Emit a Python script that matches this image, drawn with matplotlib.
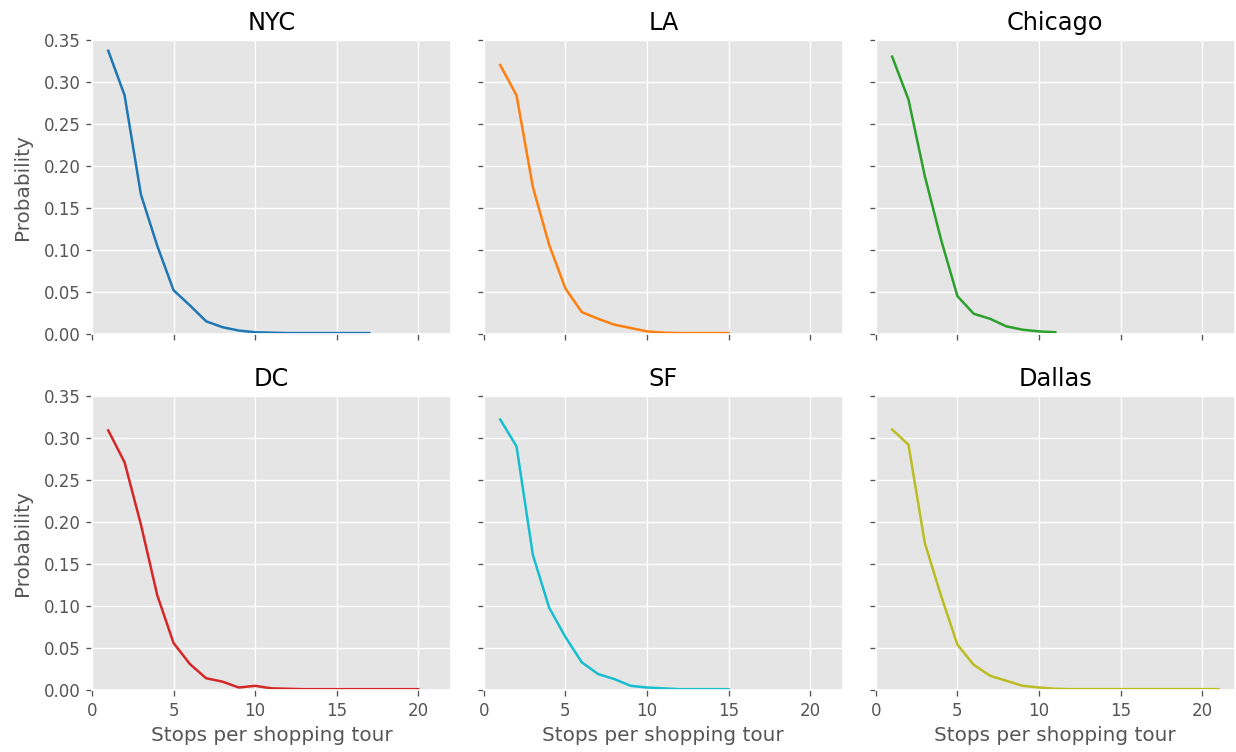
import matplotlib
matplotlib.use('Agg')
import matplotlib.pyplot as plt

plt.style.use('ggplot')

cities = ['NYC', 'LA', 'Chicago', 'DC', 'SF', 'Dallas']
colors = ['tab:blue', 'tab:orange', 'tab:green', 'tab:red', 'tab:cyan', 'tab:olive']

# probability of n stops per tour, n = 1, 2, 3, ...
nyc = [0.337, 0.284, 0.166, 0.105, 0.052, 0.034, 0.015, 0.008, 0.004, 0.002,
       0.0015, 0.001, 0.001, 0.001, 0.001, 0.001, 0.001]
la = [0.320, 0.284, 0.175, 0.106, 0.054, 0.026, 0.018, 0.011, 0.007, 0.003,
      0.0015, 0.001, 0.001, 0.001, 0.001]
chicago = [0.330, 0.279, 0.188, 0.112, 0.045, 0.024, 0.018, 0.009, 0.005, 0.003, 0.002]
dc = [0.309, 0.271, 0.197, 0.113, 0.056, 0.031, 0.014, 0.010, 0.003, 0.005,
      0.002, 0.0015, 0.001, 0.001, 0.001, 0.001, 0.001, 0.001, 0.001, 0.001]
sf = [0.322, 0.290, 0.161, 0.098, 0.063, 0.033, 0.019, 0.013, 0.005, 0.003,
      0.002, 0.001, 0.001, 0.001, 0.001]
dallas = [0.310, 0.292, 0.175, 0.112, 0.054, 0.030, 0.017, 0.011, 0.005, 0.003,
          0.0015, 0.001, 0.001, 0.001, 0.001, 0.001, 0.001, 0.001, 0.001, 0.001, 0.001]

probs = [nyc, la, chicago, dc, sf, dallas]

fig, axes = plt.subplots(2, 3, figsize=(10.3, 6.2667), dpi=120, sharex=True, sharey=True)
fig.subplots_adjust(left=0.0744, right=0.999, top=0.947, bottom=0.0824, wspace=0.092, hspace=0.211)

for ax, city, p, c in zip(axes.flat, cities, probs, colors):
    stops = range(1, len(p) + 1)
    ax.plot(stops, p, color=c)
    ax.set_title(city)

axes[0, 0].set_ylim(0, 0.35)
for ax in axes[:, 0]:
    ax.set_ylabel('Probability', labelpad=7)
for ax in axes[1, :]:
    ax.set_xlabel('Stops per shopping tour')

plt.savefig('out.png')
